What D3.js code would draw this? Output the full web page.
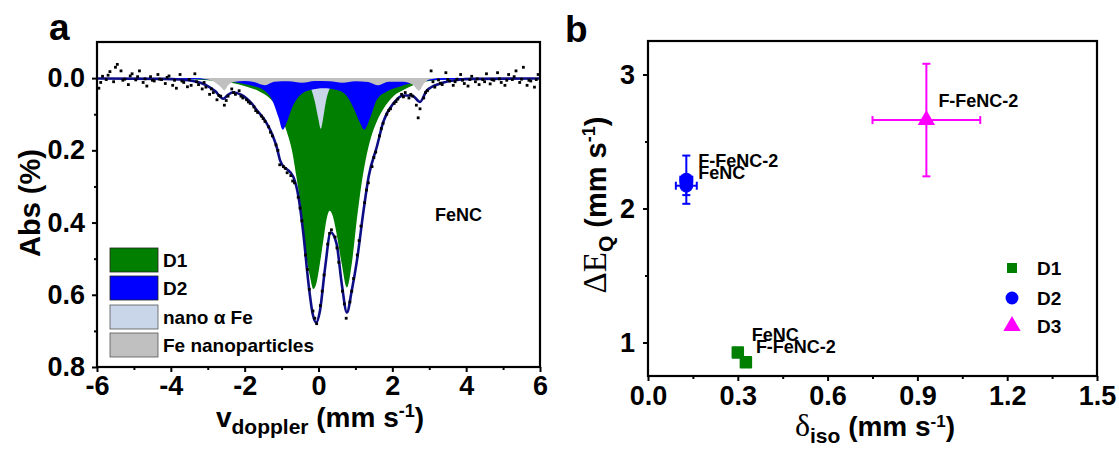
<!DOCTYPE html>
<html><head><meta charset="utf-8">
<script src="https://cdn.jsdelivr.net/npm/d3@7"></script>
<style>
body{margin:0;background:#fff;}
svg{display:block;font-family:"Liberation Sans",Arial,sans-serif;font-weight:bold;}
</style></head>
<body><svg id="c" width="1119" height="450"></svg>
<script>
// ---------- Panel a data (Mössbauer spectrum, FeNC) ----------
const aXTicks = [-6,-4,-2,0,2,4,6];
const aYTicks = [0.0,0.2,0.4,0.6,0.8];
const legendA = ["D1","D2","nano \u03b1 Fe","Fe nanoparticles"];
// component curves [velocity, absorption %]
const compD1 = [[-6,0],[-3.5,0.003],[-3.0,0.006],[-2.6,0.01],[-2.2,0.016],[-1.9,0.025],[-1.6,0.037],[-1.3,0.058],[-1.1,0.085],[-0.95,0.12],[-0.87,0.145],[-0.78,0.175],[-0.7,0.21],[-0.62,0.26],[-0.5,0.34],[-0.36,0.47],[-0.23,0.55],[-0.14,0.584],[-0.05,0.565],[0.02,0.525],[0.13,0.45],[0.22,0.39],[0.30,0.367],[0.38,0.38],[0.47,0.42],[0.63,0.515],[0.77,0.58],[0.9,0.515],[1.04,0.39],[1.17,0.29],[1.3,0.215],[1.42,0.165],[1.58,0.12],[1.76,0.085],[2.03,0.05],[2.3,0.033],[2.53,0.021],[2.84,0.011],[3.3,0.005],[4,0.002],[6,0]];
const compD2 = [[-6,0],[-3.0,0.004],[-2.6,0.007],[-2.22,0.012],[-1.85,0.02],[-1.49,0.033],[-1.26,0.06],[-1.08,0.11],[-0.97,0.143],[-0.85,0.12],[-0.72,0.083],[-0.58,0.057],[-0.4,0.04],[-0.22,0.033],[0.14,0.028],[0.5,0.033],[0.77,0.05],[0.95,0.083],[1.13,0.125],[1.24,0.143],[1.4,0.11],[1.58,0.06],[1.85,0.037],[2.21,0.023],[2.48,0.015],[2.8,0.009],[3.2,0.005],[6,0]];
const compAlphaFe = [[-6,0],[-0.6,0.005],[-0.3,0.018],[-0.2,0.03],[-0.1,0.065],[0.0,0.115],[0.06,0.14],[0.12,0.115],[0.2,0.065],[0.3,0.03],[0.4,0.018],[0.7,0.005],[6,0]];
const compFeNP = [[-6,0],[-3.4,0],[-3.0,0.004],[-2.8,0.012],[-2.65,0.024],[-2.55,0.034],[-2.45,0.02],[-2.3,0.011],[-2.0,0.008],[-1.75,0.011],[-1.45,0.02],[-1.2,0.01],[-0.8,0.009],[-0.45,0.013],[-0.1,0.008],[0.3,0.009],[0.65,0.013],[1.0,0.009],[1.35,0.011],[1.6,0.02],[1.9,0.01],[2.3,0.01],[2.55,0.018],[2.72,0.035],[2.86,0.015],[3.0,0.004],[3.4,0],[6,0]];
const fitTotal = [[-6,0.001],[-4.2,0.002],[-3.75,0.004],[-3.4,0.008],[-3.2,0.013],[-3.0,0.022],[-2.8,0.036],[-2.58,0.057],[-2.45,0.046],[-2.31,0.039],[-2.1,0.046],[-1.94,0.057],[-1.8,0.071],[-1.67,0.089],[-1.5,0.11],[-1.4,0.126],[-1.25,0.157],[-1.13,0.192],[-1.04,0.228],[-0.95,0.245],[-0.86,0.252],[-0.68,0.274],[-0.54,0.33],[-0.41,0.431],[-0.27,0.57],[-0.155,0.654],[-0.065,0.677],[0.04,0.644],[0.18,0.524],[0.33,0.427],[0.49,0.459],[0.63,0.57],[0.77,0.649],[0.9,0.589],[1.04,0.506],[1.22,0.367],[1.36,0.272],[1.58,0.19],[1.76,0.12],[2.03,0.07],[2.3,0.048],[2.53,0.048],[2.75,0.066],[2.93,0.035],[3.3,0.015],[3.75,0.005],[4.2,0.002],[6,0.001]];
const obsPoints = [[-5.95,0.028],[-5.9,0.012],[-5.85,-0.005],[-5.75,0.004],[-5.7,-0.008],[-5.65,-0.018],[-5.55,0.01],[-5.5,-0.03],[-5.45,-0.038],[-5.35,-0.02],[-5.3,0.006],[-5.25,0.003],[-5.15,0.018],[-5.1,-0.006],[-5.05,-0.012],[-4.95,0.005],[-4.9,-0.004],[-4.85,-0.02],[-4.75,0.012],[-4.7,0.002],[-4.65,0.022],[-4.55,-0.004],[-4.5,0.006],[-4.45,0.008],[-4.35,-0.01],[-4.3,0.003],[-4.25,0.004],[-4.15,0.015],[-4.1,-0.002],[-4.05,-0.006],[-3.95,0.02],[-3.9,0.006],[-3.85,0.028],[-3.75,-0.01],[-3.7,0.008],[-3.65,0.012],[-3.55,0.024],[-3.5,0.004],[-3.45,0.02],[-3.35,-0.012],[-3.3,0.01],[-3.25,0.018],[-3.15,0.03],[-3.1,0.012],[-3.05,0.025],[-2.95,0.045],[-2.9,0.03],[-2.85,0.04],[-2.75,0.06],[-2.7,0.048],[-2.65,0.05],[-2.55,0.075],[-2.5,0.062],[-2.45,0.05],[-2.35,0.03],[-2.3,0.04],[-2.25,0.045],[-2.15,0.035],[-2.1,0.05],[-2.05,0.055],[-1.95,0.06],[-1.9,0.066],[-1.85,0.07],[-1.75,0.08],[-1.7,0.09],[-1.65,0.095],[-1.55,0.105],[-1.5,0.112],[-1.45,0.12],[-1.35,0.135],[-1.3,0.15],[-1.25,0.16],[-1.15,0.185],[-1.1,0.2],[-1.05,0.24],[-0.95,0.245],[-0.9,0.25],[-0.85,0.262],[-0.75,0.27],[-0.7,0.285],[-0.65,0.29],[-0.55,0.33],[-0.5,0.36],[-0.45,0.395],[-0.35,0.49],[-0.3,0.53],[-0.25,0.585],[-0.15,0.645],[-0.1,0.665],[-0.05,0.68],[0.05,0.63],[0.1,0.59],[0.15,0.545],[0.25,0.46],[0.3,0.43],[0.35,0.42],[0.45,0.44],[0.5,0.47],[0.55,0.51],[0.65,0.59],[0.7,0.625],[0.75,0.665],[0.85,0.62],[0.9,0.59],[0.95,0.555],[1.05,0.49],[1.1,0.45],[1.15,0.41],[1.25,0.345],[1.3,0.31],[1.35,0.29],[1.45,0.245],[1.5,0.22],[1.55,0.205],[1.65,0.16],[1.7,0.14],[1.75,0.125],[1.85,0.1],[1.9,0.09],[1.95,0.085],[2.05,0.07],[2.1,0.065],[2.15,0.058],[2.25,0.045],[2.3,0.052],[2.35,0.04],[2.45,0.055],[2.5,0.045],[2.55,0.05],[2.65,0.075],[2.7,0.11],[2.75,0.085],[2.85,0.055],[2.9,0.04],[2.95,0.035],[3.05,-0.02],[3.1,0.01],[3.15,0.025],[3.25,0.005],[3.3,0.014],[3.35,0.018],[3.45,-0.015],[3.5,0.004],[3.55,0.008],[3.65,0.02],[3.7,0.01],[3.75,0.003],[3.85,-0.01],[3.9,0.006],[3.95,0.015],[4.05,0.022],[4.1,0.004],[4.15,-0.005],[4.25,0.01],[4.3,0.002],[4.35,0.018],[4.45,0.004],[4.5,0.01],[4.55,-0.012],[4.65,0.016],[4.7,0.004],[4.75,0.006],[4.85,-0.015],[4.9,0.002],[4.95,0.012],[5.05,0.02],[5.1,0.006],[5.15,-0.01],[5.25,0.004],[5.3,-0.004],[5.35,-0.02],[5.45,0.012],[5.5,0.003],[5.55,-0.03],[5.65,0.02],[5.7,0.006],[5.75,0.008],[5.85,0.025],[5.9,0.004],[5.95,-0.01]];

// ---------- Panel b data (hyperfine parameters) ----------
const bXTicks = [0.0,0.3,0.6,0.9,1.2,1.5];
const bYTicks = [1,2,3];
const bSites = ["D1","D2","D3"];
// [site, sample, delta_iso, dEQ, err_delta, err_dEQ]
const bD1 = [["D1","FeNC",0.30,0.925,0.006,0.015],["D1","F-FeNC-2",0.327,0.852,0.006,0.015]];
const bD2 = [["D2","FeNC",0.128,2.17,0.035,0.07],["D2","F-FeNC-2",0.128,2.215,0.02,0.18]];
const bD3 = [["D3","F-FeNC-2",0.93,2.66,0.18,0.42]];

// ---------- drawing ----------
const svg = d3.select("#c");
const colD1="#007f00", colD2="#0000ff", colAFe="#c9d6ea", colNP="#c0c0c0", colFit="#0d0d85", colD3="#ff00ff";

// Panel a scales
const xa = d3.scaleLinear().domain([-6,6]).range([97,540]);
const ya = d3.scaleLinear().domain([-0.1,0.8]).range([42,367]);
const ga = svg.append("g");

function areaFill(data,color){
  ga.append("path").datum(data)
    .attr("d", d3.area().x(d=>xa(d[0])).y0(ya(0)).y1(d=>ya(d[1])).curve(d3.curveMonotoneX))
    .attr("fill",color);
}
areaFill(compD1,colD1);
areaFill(compAlphaFe,colAFe);
areaFill(compD2,colD2);
areaFill(compFeNP,colNP);

ga.append("path").datum(fitTotal)
  .attr("d", d3.line().x(d=>xa(d[0])).y(d=>ya(d[1])).curve(d3.curveMonotoneX))
  .attr("fill","none").attr("stroke",colFit).attr("stroke-width",2.6);

ga.selectAll("rect.pt").data(obsPoints).join("rect").attr("class","pt")
  .attr("x",d=>xa(d[0])-1.4).attr("y",d=>ya(d[1])-1.4).attr("width",2.8).attr("height",2.8).attr("fill","#000");

function frame(g,x,y){
  const [x0,x1]=x.range();
  g.append("rect").attr("x",Math.min(x0,x1)).attr("y",Math.min(...y.range()))
   .attr("width",Math.abs(x1-x0)).attr("height",Math.abs(y.range()[1]-y.range()[0]))
   .attr("fill","none").attr("stroke","#000").attr("stroke-width",2.2);
}
frame(ga,xa,ya);

function axes(g,x,y,xt,yt,xminor,yminor,fs,xfmt,yfmt,xpad,ypad){
  const yb = Math.max(...y.range()), xl = Math.min(...x.range());
  const ax = g.append("g").attr("transform",`translate(0,${yb})`)
    .call(d3.axisBottom(x).tickValues(xt).tickSize(5).tickPadding(xpad).tickFormat(xfmt));
  const axm = g.append("g").attr("transform",`translate(0,${yb})`)
    .call(d3.axisBottom(x).tickValues(xminor).tickSize(3).tickFormat(""));
  const ay = g.append("g").attr("transform",`translate(${xl},0)`)
    .call(d3.axisLeft(y).tickValues(yt).tickSize(5).tickPadding(ypad).tickFormat(yfmt));
  const aym = g.append("g").attr("transform",`translate(${xl},0)`)
    .call(d3.axisLeft(y).tickValues(yminor).tickSize(3).tickFormat(""));
  [ax,axm,ay,aym].forEach(a=>{
    a.select(".domain").remove();
    a.selectAll("line").attr("stroke","#000").attr("stroke-width",2);
    a.selectAll("text").attr("fill","#000").style("font-size",fs+"px").style("font-family","Liberation Sans, Arial, sans-serif").style("font-weight","bold");
  });
}
axes(ga,xa,ya,aXTicks,aYTicks,[-5,-3,-1,1,3,5],[0.1,0.3,0.5,0.7],27,d3.format("d"),d3.format(".1f"),4,7);
ga.selectAll("g.tick text").filter(function(){return this.textContent.startsWith("\u2212");})
  .text(function(){return this.textContent.replace("\u2212","-");});

// axis titles a
svg.append("text").attr("transform","translate(40,203) rotate(-90)").attr("text-anchor","middle")
  .style("font-size","29px").text("Abs (%)");
const tA = svg.append("text").attr("x",320).attr("y",427).attr("text-anchor","middle").style("font-size","28px");
tA.append("tspan").text("v");
tA.append("tspan").attr("dy",7).style("font-size","21px").text("doppler");
tA.append("tspan").attr("dy",-7).text(" (mm s");
tA.append("tspan").attr("dy",-10).style("font-size","18px").text("-1");
tA.append("tspan").attr("dy",10).text(")");

svg.append("text").attr("x",49).attr("y",40).style("font-size","37px").text("a");
svg.append("text").attr("x",435).attr("y",221).style("font-size","18px").text("FeNC");

// legend a
const legColors=[colD1,colD2,colAFe,colNP];
const legY=[248,276,305,333];
legendA.forEach((lab,i)=>{
  svg.append("rect").attr("x",110).attr("y",legY[i]).attr("width",48).attr("height",24)
    .attr("fill",legColors[i]).attr("stroke",i<2?"#222":"#555").attr("stroke-width",0.8);
  svg.append("text").attr("x",163).attr("y",legY[i]+19).style("font-size","19px").text(lab);
});

// ---------- Panel b ----------
const xb = d3.scaleLinear().domain([0,1.5]).range([648,1097]);
const yb = d3.scaleLinear().domain([0.75,3.25]).range([376,41]);
const gb = svg.append("g");
frame(gb,xb,yb);
axes(gb,xb,yb,bXTicks,bYTicks,[0.15,0.45,0.75,1.05,1.35],[1.5,2.5],27,d3.format(".1f"),d3.format("d"),5,8);

function errBars(data,color){
  data.forEach(d=>{
    const cx=xb(d[2]), cy=yb(d[3]);
    const xl=xb(d[2]-d[4]), xr=xb(d[2]+d[4]), yt=yb(d[3]+d[5]), ybt=yb(d[3]-d[5]);
    const g=gb.append("g").attr("stroke",color).attr("stroke-width",2);
    g.append("line").attr("x1",xl).attr("x2",xr).attr("y1",cy).attr("y2",cy);
    g.append("line").attr("x1",cx).attr("x2",cx).attr("y1",yt).attr("y2",ybt);
    g.append("line").attr("x1",xl).attr("x2",xl).attr("y1",cy-4).attr("y2",cy+4);
    g.append("line").attr("x1",xr).attr("x2",xr).attr("y1",cy-4).attr("y2",cy+4);
    g.append("line").attr("x1",cx-4).attr("x2",cx+4).attr("y1",yt).attr("y2",yt);
    g.append("line").attr("x1",cx-4).attr("x2",cx+4).attr("y1",ybt).attr("y2",ybt);
  });
}
errBars(bD2,colD2);
errBars(bD3,colD3);
errBars(bD1,colD1);

const symSq = d3.symbol().type(d3.symbolSquare).size(110);
const symCi = d3.symbol().type(d3.symbolCircle).size(150);
const symTr = d3.symbol().type(d3.symbolTriangle).size(130);
gb.selectAll("path.d1").data(bD1).join("path").attr("class","d1")
  .attr("transform",d=>`translate(${xb(d[2])},${yb(d[3])})`).attr("d",symSq).attr("fill",colD1).attr("stroke",colD1).attr("stroke-width",2).attr("stroke-linejoin","round");
gb.selectAll("path.d2").data(bD2).join("path").attr("class","d2")
  .attr("transform",d=>`translate(${xb(d[2])},${yb(d[3])})`).attr("d",symCi).attr("fill",colD2);
gb.selectAll("path.d3").data(bD3).join("path").attr("class","d3")
  .attr("transform",d=>`translate(${xb(d[2])},${yb(d[3])})`).attr("d",symTr).attr("fill",colD3);

// point labels
const bLabels = [
  {t:"FeNC", x:0.30, y:0.925, dx:14, dy:-12},
  {t:"F-FeNC-2", x:0.327, y:0.852, dx:10, dy:-9},
  {t:"FeNC", x:0.128, y:2.17, dx:12, dy:-7},
  {t:"F-FeNC-2", x:0.128, y:2.215, dx:12, dy:-13},
  {t:"F-FeNC-2", x:0.93, y:2.66, dx:12, dy:-13}
];
bLabels.forEach(l=>{
  gb.append("text").attr("x",xb(l.x)+l.dx).attr("y",yb(l.y)+l.dy).style("font-size","18px").text(l.t);
});

// legend b
const legBY=[268,298,326];
const legBSym=[symSq,symCi,symTr], legBCol=[colD1,colD2,colD3];
bSites.forEach((s,i)=>{
  gb.append("path").attr("transform",`translate(1012,${legBY[i]})`).attr("d",legBSym[i].size(i==0?100:130)).attr("fill",legBCol[i]);
  gb.append("text").attr("x",1037).attr("y",legBY[i]+7).style("font-size","19px").text(s);
});

// axis titles b
const tbx = svg.append("text").attr("x",875).attr("y",436).attr("text-anchor","middle").style("font-size","28px");
tbx.append("tspan").style("font-family","Liberation Serif, Times New Roman, serif").style("font-weight","normal").style("font-size","32px").text("\u03b4");
tbx.append("tspan").attr("dy",7).style("font-size","21px").text("iso");
tbx.append("tspan").attr("dy",-7).text(" (mm s");
tbx.append("tspan").attr("dy",-9).style("font-size","17px").text("-1");
tbx.append("tspan").attr("dy",9).text(")");

const tby = svg.append("text").attr("transform","translate(606,205) rotate(-90)").attr("text-anchor","middle").style("font-size","29px");
tby.append("tspan").style("font-family","Liberation Serif, Times New Roman, serif").style("font-weight","normal").style("font-size","33px").text("\u0394E");
tby.append("tspan").attr("dy",7).style("font-size","21px").text("Q");
tby.append("tspan").attr("dy",-7).text(" (mm s");
tby.append("tspan").attr("dy",-11).style("font-size","18px").text("-1");
tby.append("tspan").attr("dy",11).text(")");

svg.append("text").attr("x",565).attr("y",42).style("font-size","37px").text("b");
</script></body></html>
